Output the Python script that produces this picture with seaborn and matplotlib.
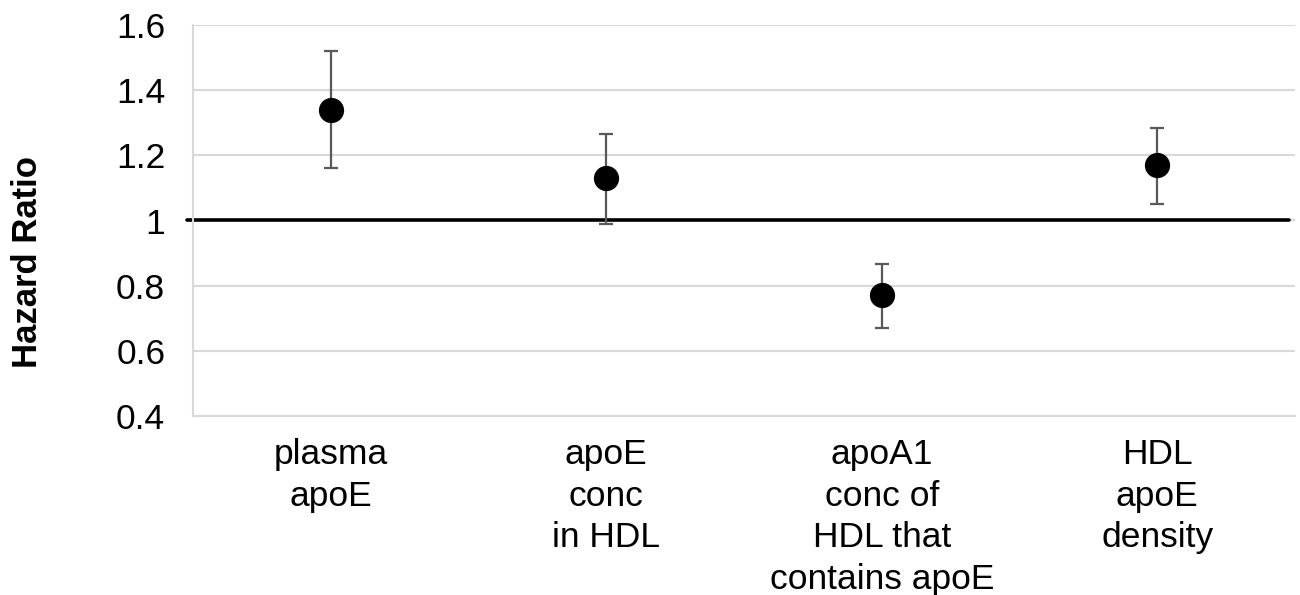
import numpy as np
import pandas as pd
import matplotlib
matplotlib.use('Agg')
import matplotlib.pyplot as plt
import seaborn as sns

# values
labels = ['plasma\napoE', 'apoE\nconc\nin HDL', 'apoA1\nconc of\nHDL that\ncontains apoE', 'HDL\napoE\ndensity']
hr = [1.34, 1.13, 0.77, 1.17]
ci_low = [1.16, 0.99, 0.67, 1.05]
ci_high = [1.52, 1.265, 0.865, 1.285]
yticks = [0.4, 0.6, 0.8, 1.0, 1.2, 1.4, 1.6]
ytick_labels = ['0.4', '0.6', '0.8', '1', '1.2', '1.4', '1.6']

df = pd.DataFrame({'label': labels, 'hr': hr, 'lo': ci_low, 'hi': ci_high})
df['pos'] = np.arange(len(df))

sns.set_style('white')
plt.rcParams['font.family'] = ['Liberation Sans', 'DejaVu Sans']
plt.rcParams['text.color'] = 'black'
plt.rcParams['xtick.color'] = 'black'
plt.rcParams['ytick.color'] = 'black'
plt.rcParams['axes.labelcolor'] = 'black'

fig = plt.figure(figsize=(13, 5.95), dpi=100)
ax = fig.add_axes([193 / 1300, 1 - 416 / 595, (1295 - 193) / 1300, (416 - 25) / 595])

# grid lines
for y in yticks:
    ax.axhline(y, color='#d9d9d9', lw=1.5, zorder=0)

# reference line at HR = 1
ax.axhline(1.0, xmin=-0.005, xmax=0.995, color='black', lw=2.6, zorder=1, clip_on=False)

# confidence intervals
ax.errorbar(df['pos'], df['hr'],
            yerr=[df['hr'] - df['lo'], df['hi'] - df['hr']],
            fmt='none', ecolor='#595959', elinewidth=1.6, capsize=4.7, capthick=1.6, zorder=2)

# point estimates
sns.scatterplot(data=df, x='pos', y='hr', ax=ax, color='black', s=330,
                edgecolor='black', linewidth=0, zorder=3, legend=False)

ax.set_xlim(-0.5, len(df) - 0.5)
ax.set_ylim(0.4, 1.6)
ax.set_yticks(yticks)
ax.set_yticklabels(ytick_labels, fontsize=25.5)
ax.set_xticks(df['pos'])
ax.set_xticklabels(df['label'], fontsize=25.5, linespacing=1.33, va='top')
ax.tick_params(axis='both', length=0)
ax.tick_params(axis='y', pad=20)
ax.tick_params(axis='x', pad=16)
ax.set_xlabel('')
ax.set_ylabel('')
fig.text(28 / 1300, 1 - 262 / 595, 'Hazard Ratio', fontsize=25, fontweight='bold',
         rotation=90, ha='center', va='center')

for s in ['top', 'right']:
    ax.spines[s].set_visible(False)
for s in ['left', 'bottom']:
    ax.spines[s].set_color('#d9d9d9')
    ax.spines[s].set_linewidth(1.5)

fig.savefig('out.png', dpi=100)
